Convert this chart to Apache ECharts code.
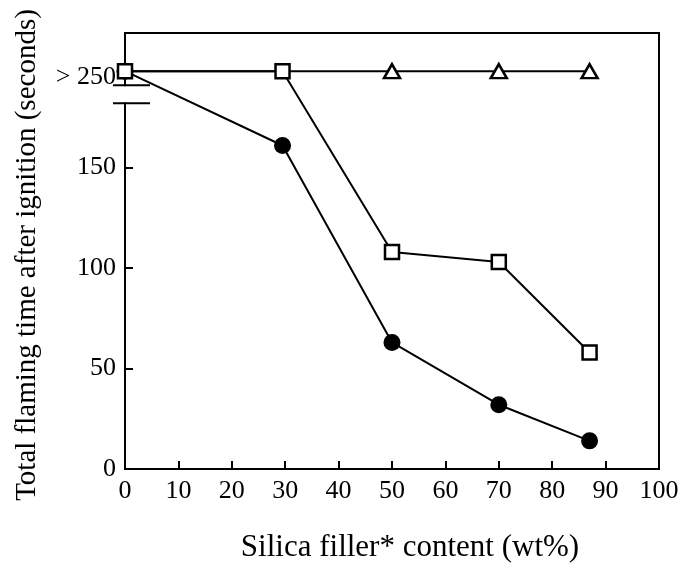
<!DOCTYPE html>
<html><head><meta charset="utf-8">
<script src="https://cdn.jsdelivr.net/npm/echarts@6/dist/echarts.min.js"></script>
<style>html,body{margin:0;padding:0;background:#fff}#c{width:682px;height:568px}</style>
</head><body><div id="c"></div>
<script>
// ---- data (250 means "> 250 s") ----
const xContent   = [0, 29.5, 50, 70, 87];
const circleTime = [250, 161, 63, 32, 14];
const squareTime = [250, 250, 108, 103, 58];
const triTime    = [250, 250, 250, 250, 250];
const yTickValues = [0, 50, 100, 150];
const xTitle = 'Silica filler* content (wt%)';
const yTitle = 'Total flaming time after ignition (seconds)';
const overLabel = '> 250';

// axis break: values >= 250 are drawn at this position of the broken scale
const BREAK_DISPLAY = 198;
const BREAK_LABEL_POS = 195;
const Y_MAX = 217;
const disp = v => (v >= 250 ? BREAK_DISPLAY : v);
const FONT = 'Liberation Serif';

const chart = echarts.init(document.getElementById('c'), null, {renderer: 'canvas'});
const pts = arr => xContent.map((x, i) => [x, disp(arr[i])]);

const option = {
  animation: false,
  backgroundColor: '#fff',
  grid: {left: 125, right: 23, top: 33, bottom: 99, show: true, borderColor: '#000', borderWidth: 2, backgroundColor: 'transparent'},
  xAxis: {
    type: 'value', min: 0, max: 100, interval: 10,
    axisLine: {show: true, lineStyle: {color: '#000', width: 2}},
    axisTick: {show: true, inside: true, length: 8, lineStyle: {color: '#000', width: 2}},
    axisLabel: {color: '#000', fontFamily: FONT, fontSize: 26, margin: 9},
    splitLine: {show: false}
  },
  yAxis: {
    type: 'value', min: 0, max: Y_MAX,
    axisLine: {show: true, lineStyle: {color: '#000', width: 2}},
    axisTick: {show: true, inside: true, length: 8, customValues: yTickValues, lineStyle: {color: '#000', width: 2}},
    axisLabel: {color: '#000', fontFamily: FONT, fontSize: 26, margin: 9,
      customValues: yTickValues.concat([BREAK_LABEL_POS]),
      formatter: v => (v === BREAK_LABEL_POS ? overLabel : String(v))},
    splitLine: {show: false}
  },
  series: [
    {
      type: 'line', name: 'triangle',
      data: pts(triTime).map((p, i) => ({value: p, symbol: xContent[i] < 40 ? 'none' : 'triangle'})),
      symbol: 'triangle', symbolSize: [16, 14], showAllSymbol: true,
      lineStyle: {color: '#000', width: 2},
      itemStyle: {color: '#fff', borderColor: '#000', borderWidth: 2.5},
      z: 2
    },
    {
      type: 'line', name: 'circle',
      data: pts(circleTime),
      symbol: 'circle', symbolSize: 17, showAllSymbol: true,
      lineStyle: {color: '#000', width: 2},
      itemStyle: {color: '#000', borderColor: '#000', borderWidth: 0},
      z: 3
    },
    {
      type: 'line', name: 'square',
      data: pts(squareTime),
      symbol: 'rect', symbolSize: 14, showAllSymbol: true,
      lineStyle: {color: '#000', width: 2},
      itemStyle: {color: '#fff', borderColor: '#000', borderWidth: 2.5},
      z: 4
    }
  ]
};
chart.setOption(option);

// axis-break marks and titles
const gx = chart.convertToPixel({gridIndex: 0}, [0, 0]);
const yHi = chart.convertToPixel({gridIndex: 0}, [0, 191])[1];
const yLo = chart.convertToPixel({gridIndex: 0}, [0, 182])[1];
const x0 = gx[0];
chart.setOption({
  graphic: [
    {type: 'rect', z: 50, shape: {x: x0 - 4, y: yHi + 1, width: 8, height: yLo - yHi - 2}, style: {fill: '#fff'}},
    {type: 'line', z: 51, shape: {x1: x0 - 12, y1: yHi, x2: x0 + 25, y2: yHi}, style: {stroke: '#000', lineWidth: 2}},
    {type: 'line', z: 51, shape: {x1: x0 - 12, y1: yLo, x2: x0 + 25, y2: yLo}, style: {stroke: '#000', lineWidth: 2}},
    {type: 'text', z: 51, x: 410, y: 548, style: {text: xTitle, font: '31px "' + FONT + '"', fill: '#000', align: 'center', verticalAlign: 'middle'}},
    {type: 'text', z: 51, x: 27, y: 255, rotation: Math.PI / 2, style: {text: yTitle, font: '29px "' + FONT + '"', fill: '#000', align: 'center', verticalAlign: 'middle'}}
  ]
});
</script></body></html>
